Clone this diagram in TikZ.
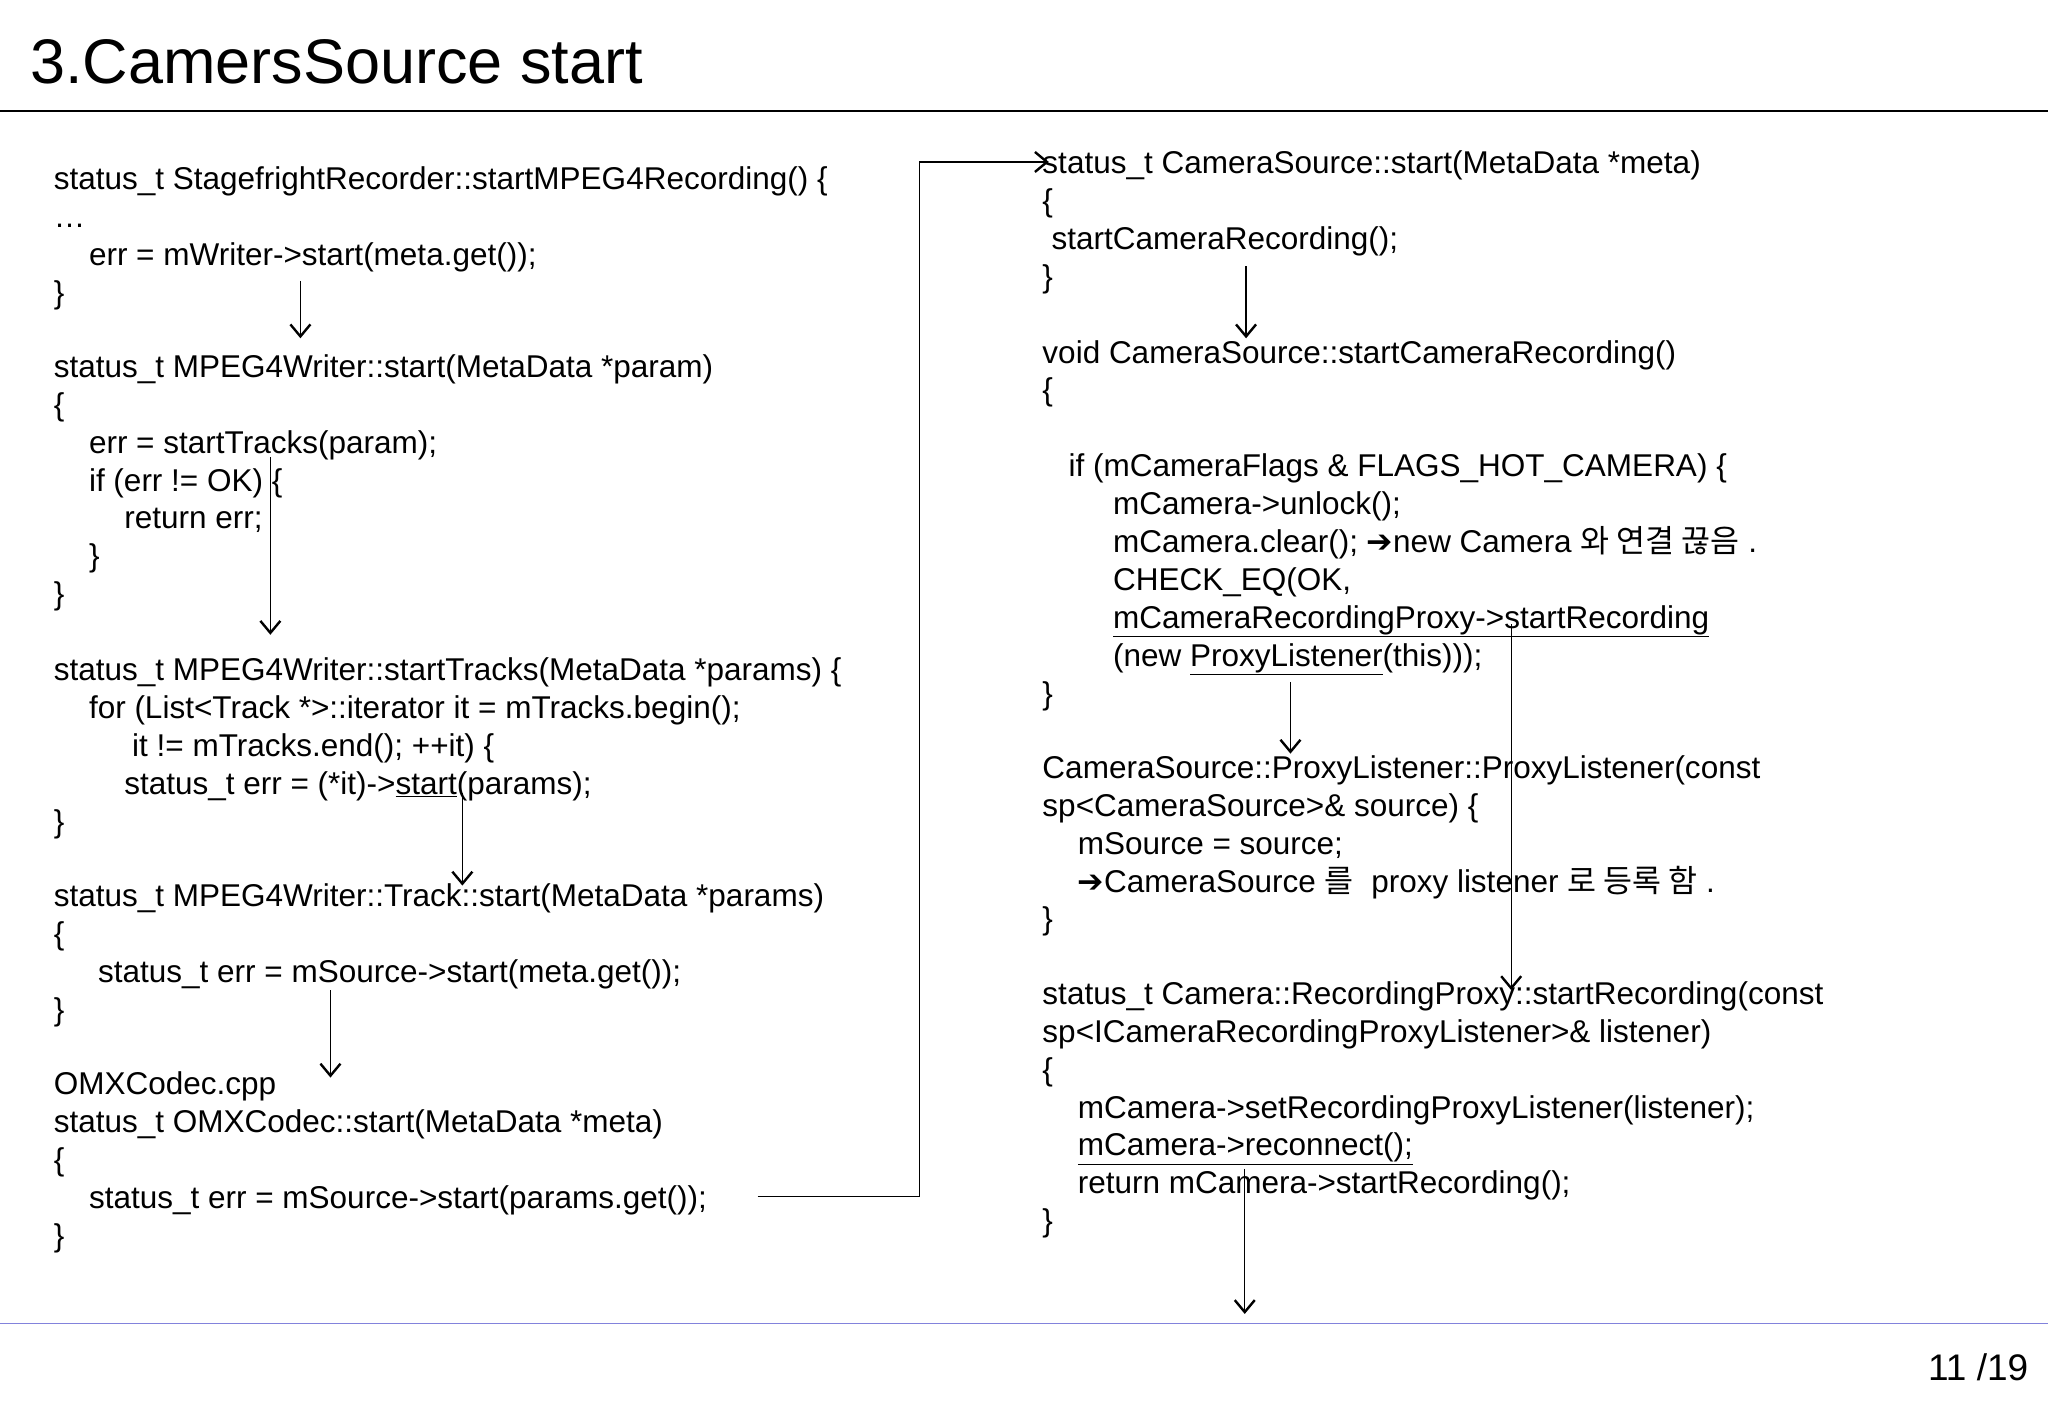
\documentclass[tikz,border=0pt]{standalone}
\usepackage{fontspec}
\setmainfont{Liberation Sans}
\newfontfamily\kr{Noto Sans CJK KR}
\newfontfamily\dv{DejaVu Sans}
\usetikzlibrary{arrows.meta}
\newcommand\Ln[4]{\node[txt] (#1) at (#2,#3+8) {#4};}
\newcommand\ar{{\dv\bfseries ➔}}
\begin{document}
\begin{tikzpicture}[x=1.306pt,y=-1.306pt,
  txt/.style={anchor=base west,inner sep=0pt,font=\fontsize{31.5}{36}\selectfont},
  conn/.style={line width=1.4pt,-{Straight Barb[length=12pt,width=20pt,line width=2.4pt]}}]
\useasboundingbox (0,0) rectangle (1568,1085);
\fill[white] (0,0) rectangle (1568,1085);
\node[anchor=base west,inner sep=0pt,font=\fontsize{63}{68}\selectfont] (title) at (23,64) {3.CamersSource start};
\draw[line width=1.2pt] (0,85) -- (1568,85);
\draw[line width=1pt,color={rgb,255:red,130;green,130;blue,220}] (0,1013) -- (1568,1013);
\node[anchor=base east,inner sep=0pt,font=\fontsize{37}{40}\selectfont] (pg) at (1553,1057) {11 /19};
% left column
\Ln{a1}{41}{137}{status\_t StagefrightRecorder::startMPEG4Recording() \{}
\Ln{a2}{41}{166}{\dots}
\Ln{a3}{68}{195}{err = mWriter->start(meta.get());}
\Ln{a4}{41}{224}{\}}
\Ln{b1}{41}{281}{status\_t MPEG4Writer::start(MetaData *param)}
\Ln{b2}{41}{310}{\{}
\Ln{b3}{68}{339}{err = startTracks(param);}
\Ln{b4}{68}{368}{if (err != OK) \{}
\Ln{b5}{95}{397}{return err;}
\Ln{b6}{68}{426}{\}}
\Ln{b7}{41}{455}{\}}
\Ln{c1}{41}{513}{status\_t MPEG4Writer::startTracks(MetaData *params) \{}
\Ln{c2}{68}{542}{for (List<Track *>::iterator it = mTracks.begin();}
\Ln{c3}{101}{571}{it != mTracks.end(); ++it) \{}
\Ln{c4}{95}{600}{status\_t err = (*it)->\underline{start}(params);}
\Ln{c5}{41}{629}{\}}
\Ln{d1}{41}{686}{status\_t MPEG4Writer::Track::start(MetaData *params)}
\Ln{d2}{41}{715}{\{}
\Ln{d3}{75}{744}{status\_t err = mSource->start(meta.get());}
\Ln{d4}{41}{773}{\}}
\Ln{e1}{41}{830}{OMXCodec.cpp}
\Ln{e2}{41}{859}{status\_t OMXCodec::start(MetaData *meta)}
\Ln{e3}{41}{888}{\{}
\Ln{e4}{68}{917}{status\_t err = mSource->start(params.get());}
\Ln{e5}{41}{946}{\}}
% right column
\Ln{f1}{798}{125}{status\_t CameraSource::start(MetaData *meta)}
\Ln{f2}{798}{154}{\{}
\Ln{f3}{805}{183}{startCameraRecording();}
\Ln{f4}{798}{212}{\}}
\Ln{g1}{798}{270}{void CameraSource::startCameraRecording()}
\Ln{g2}{798}{299}{\{}
\Ln{g3}{818}{357}{if (mCameraFlags \& FLAGS\_HOT\_CAMERA) \{}
\Ln{g4}{852}{386}{mCamera->unlock();}
\Ln{g5}{852}{415}{mCamera.clear(); \ar new Camera {\kr 와 연결 끊음} .}
\Ln{g6}{852}{444}{CHECK\_EQ(OK,}
\Ln{g7}{852}{473}{\underline{mCameraRecordingProxy->startRecording}}
\Ln{g8}{852}{502}{(new \underline{ProxyListener}(this)));}
\Ln{g9}{798}{531}{\}}
\Ln{h1}{798}{588}{CameraSource::ProxyListener::ProxyListener(const}
\Ln{h2}{798}{617}{sp<CameraSource>\& source) \{}
\Ln{h3}{825}{646}{mSource = source;}
\Ln{h4}{825}{675}{\ar CameraSource {\kr 를}\ \ proxy listener {\kr 로 등록 함} .}
\Ln{h5}{798}{704}{\}}
\Ln{i1}{798}{761}{status\_t Camera::RecordingProxy::startRecording(const}
\Ln{i2}{798}{790}{sp<ICameraRecordingProxyListener>\& listener)}
\Ln{i3}{798}{819}{\{}
\Ln{i4}{825}{848}{mCamera->setRecordingProxyListener(listener);}
\Ln{i5}{825}{877}{\underline{mCamera->reconnect();}}
\Ln{i6}{825}{906}{return mCamera->startRecording();}
\Ln{i7}{798}{935}{\}}
% connectors
\coordinate (p1s) at (230,215); \coordinate (p1e) at (230,259);
\coordinate (p2s) at (207,350); \coordinate (p2e) at (207,486);
\coordinate (p3s) at (354,607); \coordinate (p3e) at (354,678);
\coordinate (p4s) at (253,758); \coordinate (p4e) at (253,825);
\coordinate (p5s) at (580,916); \coordinate (p5e) at (803,124);
\coordinate (p6s) at (954,204); \coordinate (p6e) at (954,259);
\coordinate (p7s) at (988,522); \coordinate (p7e) at (988,577);
\coordinate (p8s) at (1157,478); \coordinate (p8e) at (1157,758);
\coordinate (p9s) at (953,895); \coordinate (p9e) at (953,1006);
\draw[conn] (p1s) -- (p1e);
\draw[conn] (p2s) -- (p2e);
\draw[conn] (p3s) -- (p3e);
\draw[conn] (p4s) -- (p4e);
\draw[conn] (p5s) -- (704,916) -- (704,124) -- (p5e);
\draw[conn] (p6s) -- (p6e);
\draw[conn] (p7s) -- (p7e);
\draw[conn] (p8s) -- (p8e);
\draw[conn] (p9s) -- (p9e);
\end{tikzpicture}
\end{document}
